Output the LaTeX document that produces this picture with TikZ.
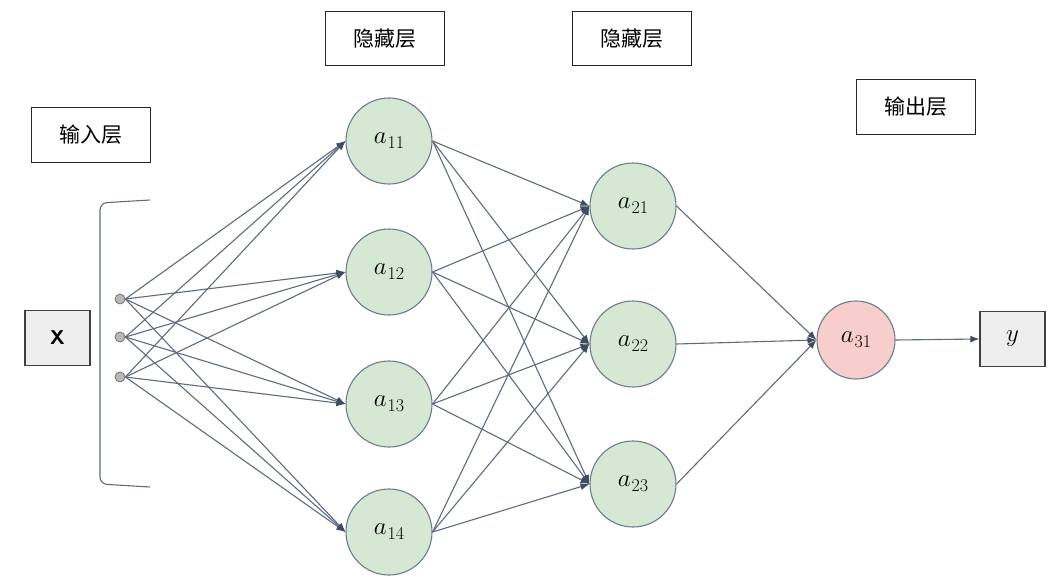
\documentclass[tikz,border=0pt]{standalone}
\usepackage{fix-cm}
\usepackage{fontspec}
\newfontfamily\cjk{Noto Sans CJK SC}
\usetikzlibrary{arrows.meta}
\definecolor{ngreen}{HTML}{D5E8D4}
\definecolor{npink}{HTML}{F8CECC}
\definecolor{nborder}{HTML}{6E7B8B}
\definecolor{lcol}{HTML}{5F6B7E}
\definecolor{tipcol}{HTML}{3F4D63}
\definecolor{boxfill}{HTML}{EEEEEE}
\newcommand\nlab[1]{$a$\kern1pt\raisebox{-5pt}{\fontsize{18}{20}\selectfont #1}}
\begin{document}
\begin{tikzpicture}[x=1pt,y=-1pt,
  neuron/.style={circle,draw=nborder,line width=1.1pt,fill=ngreen,minimum size=86pt,inner sep=0pt,font=\fontsize{25}{29}\selectfont},
  outneuron/.style={neuron,fill=npink,minimum size=78pt},
  title/.style={draw=black!85,line width=1pt,minimum width=119pt,minimum height=54pt,inner sep=0pt,font=\cjk\fontsize{21}{24}\selectfont},
  iobox/.style={draw=black!75,line width=1.2pt,fill=boxfill,minimum width=65pt,minimum height=55pt,inner sep=0pt},
  dot/.style={circle,draw=black!55,line width=0.8pt,fill=black!28,minimum size=10pt,inner sep=0pt},
  conn/.style={draw=lcol,line width=1.1pt,-{Latex[length=9pt,width=7pt,fill=tipcol,color=tipcol]}}
]
\useasboundingbox[fill=white] (0,0) rectangle (1056,583);

% titles
\node[title] (t0) at (90.5,135) {输入层};
\node[title] (t1) at (384.5,39) {隐藏层};
\node[title] (t2) at (631.5,39) {隐藏层};
\node[title] (t3) at (915.5,107) {输出层};

% input box and bracket
\node[iobox,font=\sffamily\bfseries\fontsize{20}{24}\selectfont] (X) at (57.5,338) {X};
\draw[lcol,line width=1.1pt,rounded corners=7pt] (150,200) -- (100,203) -- (100,484) -- (150,487);

% input dots
\node[dot] (i1) at (120,299) {};
\node[dot] (i2) at (120,337) {};
\node[dot] (i3) at (120,377) {};

% layer 1
\node[neuron] (a11) at (389,141) {\nlab{11}};
\node[neuron] (a12) at (389,272) {\nlab{12}};
\node[neuron] (a13) at (389,404) {\nlab{13}};
\node[neuron] (a14) at (389,532) {\nlab{14}};

% layer 2
\node[neuron] (a21) at (633,206) {\nlab{21}};
\node[neuron] (a22) at (633,344) {\nlab{22}};
\node[neuron] (a23) at (633,484) {\nlab{23}};

% output
\node[outneuron] (a31) at (856,340) {\nlab{31}};
\node[iobox,font=\fontsize{25}{29}\selectfont] (y) at (1012.5,339) {$y$};

% connections input -> layer 1
\foreach \i in {i1,i2,i3}
  \foreach \a in {a11,a12,a13,a14}
    \draw[conn] (\i.east) -- (\a.west);

% layer 1 -> layer 2
\foreach \a in {a11,a12,a13,a14}
  \foreach \b in {a21,a22,a23}
    \draw[conn] (\a.east) -- (\b.west);

% layer 2 -> output
\foreach \b in {a21,a22,a23}
  \draw[conn] (\b.east) -- (a31.west);

\draw[conn] (a31.east) -- (y.west);
\end{tikzpicture}
\end{document}
